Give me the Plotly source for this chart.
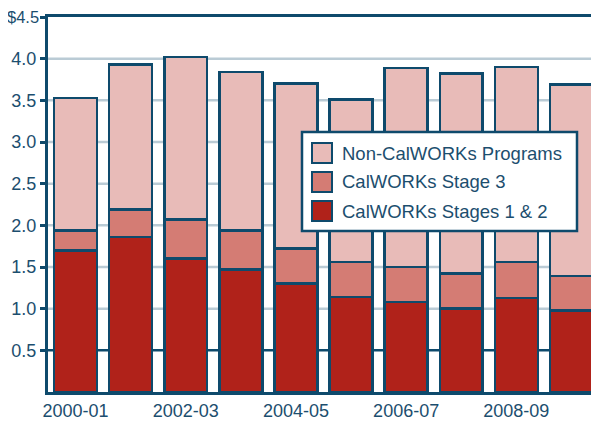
import plotly.graph_objects as go

years = ["2000-01", "2001-02", "2002-03", "2003-04", "2004-05",
         "2005-06", "2006-07", "2007-08", "2008-09", "2009-10"]
stages_1_2 = [1.70, 1.86, 1.60, 1.47, 1.30, 1.14, 1.08, 1.00, 1.13, 0.98]
stage_3 = [0.24, 0.33, 0.47, 0.47, 0.42, 0.42, 0.42, 0.42, 0.43, 0.41]
non_calworks = [1.59, 1.74, 1.95, 1.90, 1.98, 1.95, 2.39, 2.40, 2.34, 2.30]

series_names = ["CalWORKs Stages 1 & 2", "CalWORKs Stage 3", "Non-CalWORKs Programs"]
series_colors = ["#B0221A", "#D47C74", "#E8BBB8"]
y_tickvals = [0.5, 1.0, 1.5, 2.0, 2.5, 3.0, 3.5, 4.0, 4.5]
y_ticktext = ["0.5", "1.0", "1.5", "2.0", "2.5", "3.0", "3.5", "4.0", "$4.5"]
x_tick_labels = years[::2]

DARK = "#0E4A6C"
TEXT = "#1C4E6E"
GRID = "#BACBD5"
FONT = "Liberation Sans, Arial, sans-serif"

fig = go.Figure()
for name, vals, col in zip(series_names, [stages_1_2, stage_3, non_calworks], series_colors):
    fig.add_trace(go.Bar(x=years, y=vals, name=name,
                         marker=dict(color=col, line=dict(color=DARK, width=2.5)),
                         showlegend=False))

# page body has an 8px default margin; compensate so the plot lands where the reference has it
OFF = 8
PW, PH = 599, 424
W, H = PW - OFF, PH - OFF
PL, PT, PB = 48, 17, 392          # plot area edges in page pixels
L, R, T, B = PL - OFF, 0, PT - OFF, PH - PB
pw, ph = W - L - R, H - T - B

def px(X):
    return (X - PL) / pw

def py(Y):
    return (PB - Y) / ph

# the top label sits against the page edge: draw it as a slightly smaller annotation
top_label = y_ticktext[-1]
axis_ticktext = y_ticktext[:-1] + [""]

shapes = []
# gridlines drawn as shapes (the lowest one is dark in the reference)
for i, v in enumerate(y_tickvals[:-1]):
    shapes.append(dict(type="line", xref="paper", yref="y", x0=0, x1=1, y0=v, y1=v,
                       line=dict(color=DARK if i == 0 else GRID, width=2.5),
                       layer="below"))
# legend box
shapes.append(dict(type="rect", xref="paper", yref="paper", x0=px(302), x1=px(577),
                   y0=py(231), y1=py(132), fillcolor="white",
                   line=dict(color=DARK, width=2.5), layer="above"))
annotations = [
    dict(xref="paper", yref="y", x=px(41), y=y_tickvals[-1], text=top_label,
         showarrow=False, xanchor="right", yanchor="middle",
         font=dict(family=FONT, size=16.5, color=TEXT)),
]
legend_items = list(zip(series_names, series_colors))[::-1]
for i, (name, col) in enumerate(legend_items):
    cy = 153 + i * 29
    shapes.append(dict(type="rect", xref="paper", yref="paper",
                       x0=px(312), x1=px(332), y0=py(cy + 10), y1=py(cy - 10),
                       fillcolor=col, line=dict(color=DARK, width=2), layer="above"))
    annotations.append(dict(xref="paper", yref="paper", x=px(340), y=py(cy),
                            text=name, showarrow=False, xanchor="left", yanchor="middle",
                            font=dict(family=FONT, size=18.5, color=TEXT)))

fig.update_layout(
    width=W, height=H,
    margin=dict(l=L, r=R, t=T, b=B, pad=0, autoexpand=False),
    paper_bgcolor="white", plot_bgcolor="white",
    barmode="stack", bargap=0.22,
    font=dict(family=FONT, size=18, color=TEXT),
    shapes=shapes, annotations=annotations,
    xaxis=dict(type="category", tickmode="array", tickvals=x_tick_labels,
               ticktext=x_tick_labels, showline=True, linecolor=DARK, linewidth=3,
               mirror=True, ticks="", showgrid=False, automargin=False,
               tickfont=dict(family=FONT, size=18, color=TEXT)),
    yaxis=dict(range=[0, 4.5], tickmode="array", tickvals=y_tickvals,
               ticktext=axis_ticktext,
               showline=True, linecolor=DARK, linewidth=3, ticks="outside",
               ticklen=5, tickcolor=DARK, tickwidth=2.5, automargin=False,
               showgrid=False, zeroline=False,
               tickfont=dict(family=FONT, size=18, color=TEXT)),
)

fig.write_html("out.html")
